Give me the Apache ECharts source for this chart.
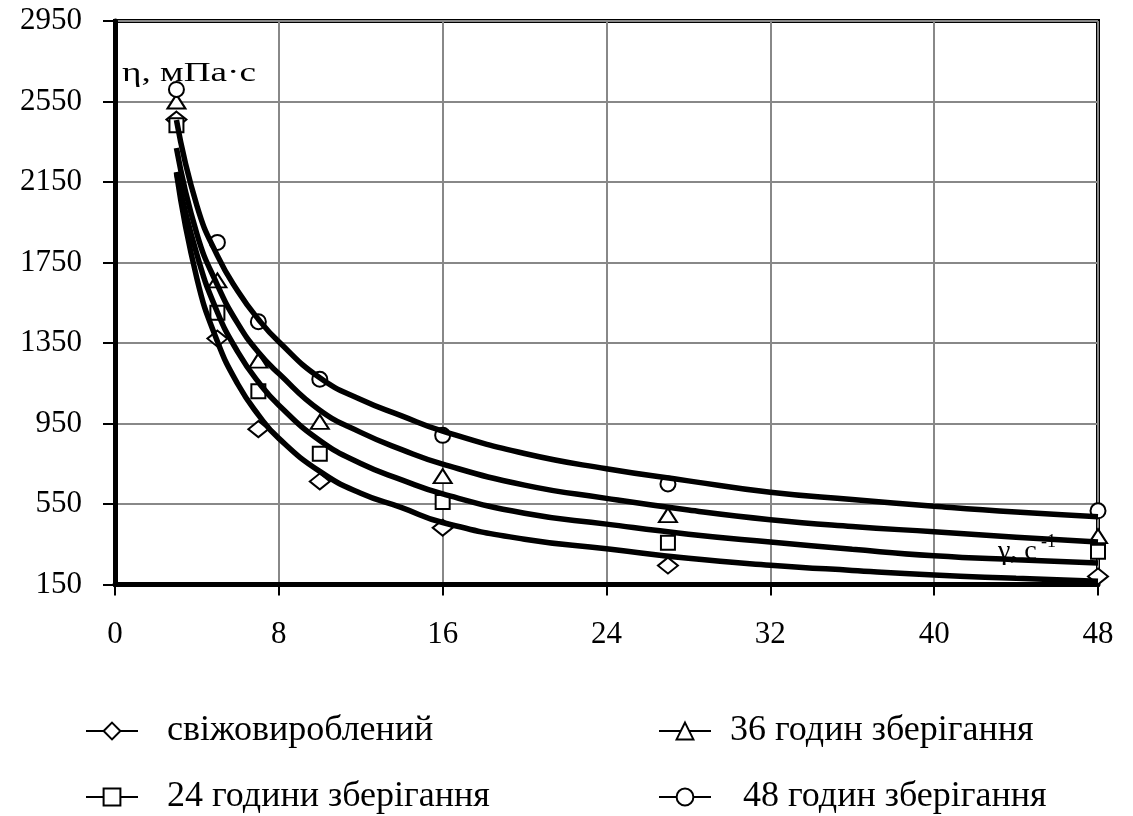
<!DOCTYPE html>
<html><head><meta charset="utf-8">
<script src="https://cdn.jsdelivr.net/npm/echarts@6/dist/echarts.min.js"></script>
<style>html,body{margin:0;padding:0;background:#fff}#c{width:1133px;height:816px}</style>
</head><body><div id="c"></div>
<script>
// ---- data ----
const seriesNames = ['свіжовироблений', '24 години зберігання', '36 годин зберігання', '48 годин зберігання'];
const yLabelTicks = [150, 550, 950, 1350, 1750, 2150, 2550, 2950];
const xLabelTicks = [0, 8, 16, 24, 32, 40, 48];
// measured points
const measX = [3, 5, 7, 10, 16, 27, 48];
const measFresh = [2460, 1372, 922, 662, 432, 244, 190];
const meas24 = [2432, 1500, 1110, 800, 560, 358, 313];
const meas36 = [2550, 1661, 1263, 958, 688, 495, 390];
const meas48 = [2610, 1850, 1456, 1170, 891, 650, 516];
// fitted curves
const curveX = [3, 4, 5, 6, 7, 8, 10, 12, 14, 16, 20, 24, 28, 32, 36, 40, 44, 48];
const curveFresh = [2195, 1670, 1358, 1145, 993, 876, 712, 603, 532, 458, 375, 328, 280, 246, 220, 197, 181, 166];
const curve24 = [2200, 1790, 1503, 1305, 1156, 1041, 866, 751, 670, 600, 504, 450, 400, 361, 325, 293, 273, 257];
const curve36 = [2319, 1892, 1638, 1446, 1304, 1198, 1016, 906, 820, 748, 644, 578, 520, 472, 438, 412, 385, 361];
const curve48 = [2458, 2032, 1784, 1607, 1468, 1356, 1177, 1069, 988, 912, 801, 725, 665, 608, 572, 539, 510, 487];

// ---- build ----
const Y0 = yLabelTicks[0];           // axis baseline (labels shifted by it)
const yStep = yLabelTicks[1] - yLabelTicks[0];
const xStep = xLabelTicks[1] - xLabelTicks[0];
const pairs = (xs, ys) => xs.map((x, i) => [x, ys[i] - Y0]);

const symbols = ['diamond', 'rect', 'triangle', 'circle'];
const symSizes = [[20, 16], 14, [18, 14], 15];
const measAll = [measFresh, meas24, meas36, meas48];
const curveAll = [curveFresh, curve24, curve36, curve48];
const FONT = '"Liberation Serif", "Times New Roman", serif';

const series = [];
seriesNames.forEach((name, i) => {
  series.push({
    name: name + ' ', type: 'scatter', z: 2,
    data: pairs(measX, measAll[i]),
    symbol: symbols[i], symbolSize: symSizes[i],
    itemStyle: { color: '#fff', borderColor: '#000', borderWidth: 2, opacity: 1 },
    silent: true
  });
  series.push({
    name: name, type: 'line', z: 3,
    data: pairs(curveX, curveAll[i]),
    smooth: 0.5,
    showSymbol: false, symbol: symbols[i], symbolSize: 14,
    itemStyle: { color: '#fff', borderColor: '#000', borderWidth: 2 },
    lineStyle: { color: '#000', width: 5.5 },
    silent: true
  });
});

const legendPos = [
  { left: 80, top: 708, pad: 24 },
  { left: 80, top: 774, pad: 24 },
  { left: 653, top: 708, pad: 14 },
  { left: 653, top: 774, pad: 27 }
];
const legends = seriesNames.map((name, i) => ({
  data: [name], left: legendPos[i].left, top: legendPos[i].top,
  itemWidth: 52, itemHeight: 21, selectedMode: false,
  lineStyle: { width: 2, color: '#000' },
  itemStyle: { color: '#fff', borderColor: '#000', borderWidth: 2 },
  textStyle: { fontFamily: FONT, fontSize: 36, color: '#000', padding: [0, 0, 0, legendPos[i].pad] }
}));

const chart = echarts.init(document.getElementById('c'), null, { renderer: 'canvas' });
chart.setOption({
  backgroundColor: '#fff',
  animation: false,
  grid: { left: 115, right: 35, top: 21, bottom: 231.5, show: true, borderColor: '#000', borderWidth: 4, backgroundColor: 'transparent' },
  legend: legends,
  xAxis: {
    type: 'value', min: xLabelTicks[0], max: xLabelTicks[xLabelTicks.length - 1], interval: xStep,
    axisLine: { show: true, onZero: false, lineStyle: { color: '#000', width: 5 } },
    axisTick: { show: true, length: 11, lineStyle: { color: '#000', width: 2 } },
    axisLabel: { margin: 35, fontFamily: FONT, fontSize: 31, color: '#000' },
    splitLine: { show: true, lineStyle: { color: '#888', width: 2 } }
  },
  yAxis: {
    type: 'value', min: 0, max: yLabelTicks[yLabelTicks.length - 1] - Y0, interval: yStep,
    axisLine: { show: true, lineStyle: { color: '#000', width: 5 } },
    axisTick: { show: true, length: 12, lineStyle: { color: '#000', width: 2 } },
    axisLabel: { margin: 33, fontFamily: FONT, fontSize: 31, color: '#000', formatter: v => String(v + Y0) },
    splitLine: { show: true, lineStyle: { color: '#888', width: 2 } }
  },
  series: series,
  graphic: [
    { type: 'text', x: 122, y: 60, scaleX: 1.33, z: 10,
      style: { text: 'η, мПа·с', font: '28px ' + FONT, fill: '#000', verticalAlign: 'top' } },
    { type: 'text', x: 998, y: 538, z: 10,
      style: { text: 'γ, с', font: '28px ' + FONT, fill: '#000', verticalAlign: 'top' } },
    { type: 'text', x: 1041, y: 533, z: 10,
      style: { text: '-1', font: '18px ' + FONT, fill: '#000', verticalAlign: 'top' } }
  ]
});
</script></body></html>
